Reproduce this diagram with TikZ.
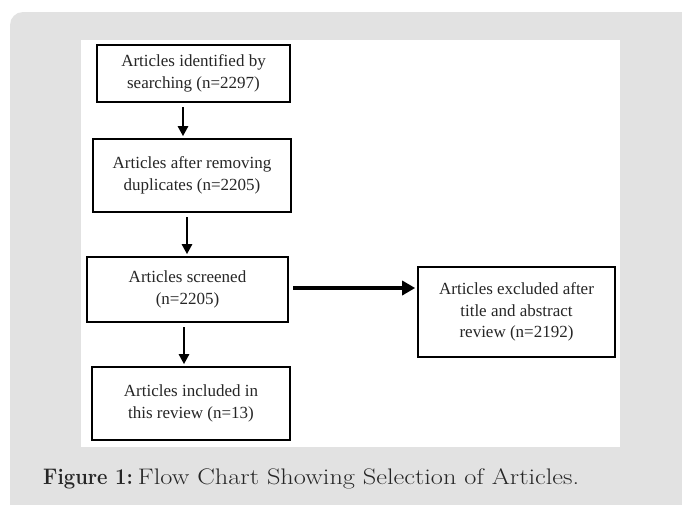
\documentclass[tikz,border=0pt]{standalone}
\usepackage{fontspec}
\usetikzlibrary{arrows.meta}
\newfontfamily\boxfont{Liberation Serif}
\definecolor{panelgrey}{HTML}{E2E2E2}
\definecolor{inktext}{HTML}{262626}

\begin{document}
\begin{tikzpicture}[x=1pt,y=-1pt,
    stage/.style={draw,line width=2.6pt,align=center,inner sep=0pt,text=inktext,
      font=\boxfont\fontsize{17}{21.5}\selectfont},
    flow/.style={line width=2.8pt,-{Triangle[width=10pt,length=10pt]},
      shorten <=4pt,shorten >=1.5pt}]
    \useasboundingbox (0,0) rectangle (682,504);
    \fill[panelgrey,rounded corners=13pt] (10,12) rectangle (720,540);
    \fill[white] (81,40) rectangle (620,447);
    % boxes of the chart
    \node[stage,minimum width=193pt,minimum height=57pt] (ident) at (193.5,73.5)
      {Articles identified by\\searching (n=2297)};
    \node[stage,minimum width=198pt,minimum height=73pt] (dup) at (192,175.5)
      {Articles after removing\\duplicates (n=2205)};
    \node[stage,minimum width=201pt,minimum height=65pt] (screen) at (187.5,289.5)
      {Articles screened\\(n=2205)};
    \node[stage,minimum width=198pt,minimum height=73pt] (incl) at (191,403.5)
      {Articles included in\\this review (n=13)};
    \node[stage,minimum width=197pt,minimum height=90pt] (excl) at (516.5,312)
      {Articles excluded after\\title and abstract\\review (n=2192)};
    % connectors
    \draw[flow] ([xshift=-10.5pt]ident.south) -- ([xshift=-10.5pt]ident.south |- dup.north);
    \draw[flow] ([xshift=-5pt]dup.south) -- ([xshift=-5pt]dup.south |- screen.north);
    \draw[flow] ([xshift=-3.5pt]screen.south) -- ([xshift=-3.5pt]screen.south |- incl.north);
    \draw[flow,line width=4.5pt,-{Triangle[width=14pt,length=13pt]}]
      ([yshift=1.5pt]screen.east) -- ([yshift=1.5pt]screen.east -| excl.west);
    \node[anchor=base west,inner sep=0pt,text=black!85,font=\fontsize{22.5}{27}\selectfont]
      (caption) at (43,484) {\scalebox{0.9}[1]{\textbf{Figure 1:}}\hspace{5pt}%
      \scalebox{1.17}[1]{Flow Chart Showing Selection of Articles.}};
\end{tikzpicture}
\end{document}
